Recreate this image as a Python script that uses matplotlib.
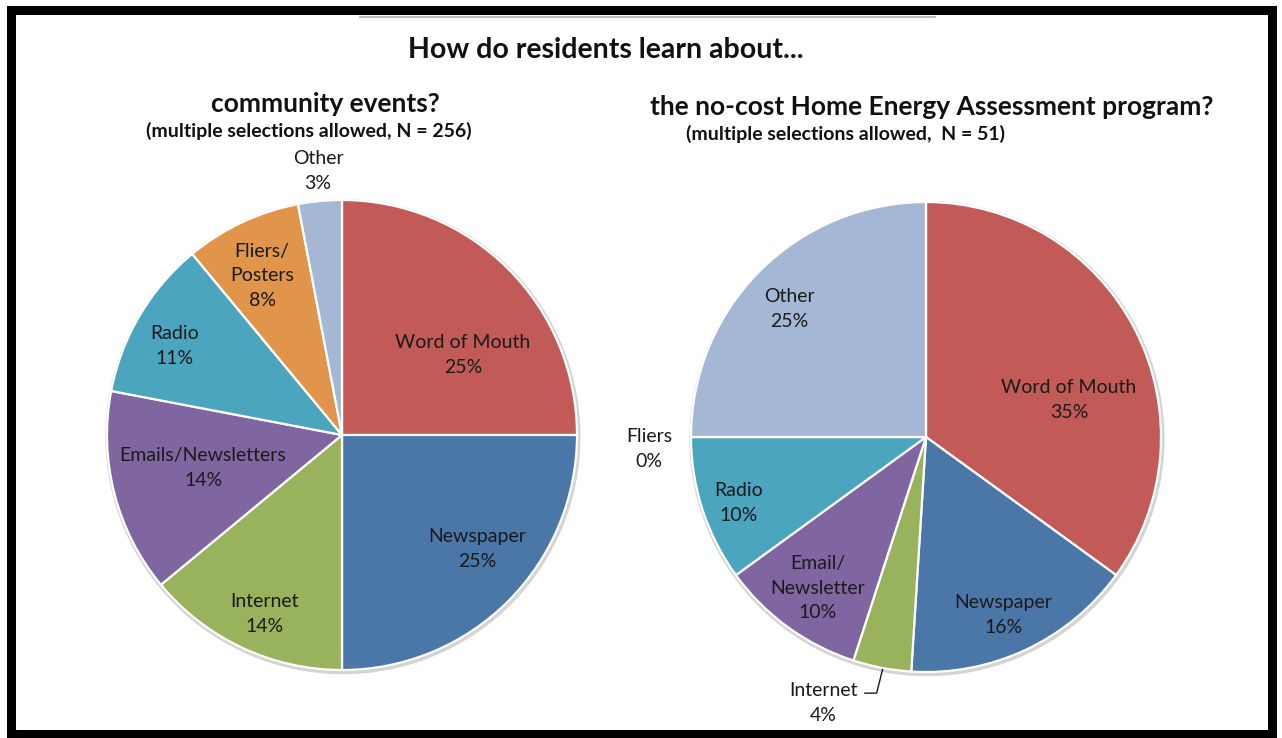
import matplotlib
matplotlib.use("Agg")
import matplotlib.pyplot as plt
from matplotlib.patches import Circle, Rectangle
from matplotlib.lines import Line2D

# Community events survey
events_labels = ["Word of Mouth", "Newspaper", "Internet", "Emails/Newsletters",
                 "Radio", "Fliers/\nPosters", "Other"]
events_values = [25, 25, 14, 14, 11, 8, 3]

# Home Energy Assessment program survey
hea_labels = ["Word of Mouth", "Newspaper", "Internet", "Email/\nNewsletter",
              "Radio", "Fliers", "Other"]
hea_values = [35, 16, 4, 10, 10, 0, 25]

colors = ["#C25B57", "#4A77A8", "#99B25C", "#7F66A0", "#4BA5BF", "#E0954B", "#A4B8D6"]

# label anchor points in pie units (radius = 1)
events_label_xy = [(0.515, 0.34), (0.574, -0.485), (-0.328, -0.762), (-0.591, -0.14),
                   (-0.711, 0.379), (-0.34, 0.677), (-0.102, 1.123)]
hea_label_xy = [(0.609, 0.157), (0.328, -0.757), (-0.438, -1.132), (-0.46, -0.643),
                (-0.796, -0.281), (-1.179, -0.051), (-0.583, 0.545)]

plt.rcParams['font.family'] = ['Lato', 'DejaVu Sans']

W, H = 1282, 738
fig = plt.figure(figsize=(W / 100, H / 100), dpi=100)
fig.patch.set_facecolor("white")

R = 235  # pie radius in pixels


def pie_axes(cx, cy):
    half = 1.25 * R
    ax = fig.add_axes([(cx - half) / W, (H - cy - half) / H, 2 * half / W, 2 * half / H])
    ax.set_xlim(-1.25, 1.25)
    ax.set_ylim(-1.25, 1.25)
    ax.set_aspect("equal")
    ax.axis("off")
    return ax


def draw_pie(ax, labels, values, label_xy):
    ax.add_patch(Circle((0.004, -0.007), 1.008, color="#d4d4d4", zorder=0))
    ax.pie(values, colors=colors, startangle=90, counterclock=False, radius=1.0,
           wedgeprops=dict(edgecolor="white", linewidth=1.6))
    ax.set_xlim(-1.25, 1.25)
    ax.set_ylim(-1.25, 1.25)
    for lab, val, (x, y) in zip(labels, values, label_xy):
        ax.text(x, y, f"{lab}\n{val}%", ha="center", va="center", fontsize=14,
                color="#1a1a1a", linespacing=1.55, zorder=5)


ax1 = pie_axes(342, 435)
draw_pie(ax1, events_labels, events_values, events_label_xy)

ax2 = pie_axes(926, 437)
draw_pie(ax2, hea_labels, hea_values, hea_label_xy)
# leader line for the narrow Internet slice
ax2.plot([-0.26, -0.21, -0.185], [-1.09, -1.09, -0.99], color="#1a1a1a", lw=1.0,
         clip_on=False, zorder=5)

# titles
fig.text(606 / W, 1 - 50 / H, "How do residents learn about...", ha="center", va="center",
         fontsize=20.5, fontweight="bold", color="#111111")
fig.text(325 / W, 1 - 104 / H, "community events?", ha="center", va="center",
         fontsize=19, fontweight="bold", color="#111111")
fig.text(309 / W, 1 - 131 / H, "(multiple selections allowed, N = 256)", ha="center",
         va="center", fontsize=14, fontweight="bold", color="#111111")
fig.text(932 / W, 1 - 107 / H, "the no-cost Home Energy Assessment program?", ha="center",
         va="center", fontsize=19, fontweight="bold", color="#111111")
fig.text(845 / W, 1 - 134 / H, "(multiple selections allowed,  N = 51)", ha="center",
         va="center", fontsize=14, fontweight="bold", color="#111111")

# thin rule at the top and black frame
fig.add_artist(Line2D([360 / W, 935 / W], [1 - 17 / H, 1 - 17 / H], color="#b0b0b0",
                      lw=1.2, transform=fig.transFigure))
fig.add_artist(Rectangle((11 / W, 1 - 734 / H), (1272 - 11) / W, (734 - 10) / H,
                         fill=False, edgecolor="black", lw=6.5, transform=fig.transFigure))

fig.savefig("out.png", dpi=100, facecolor="white")
